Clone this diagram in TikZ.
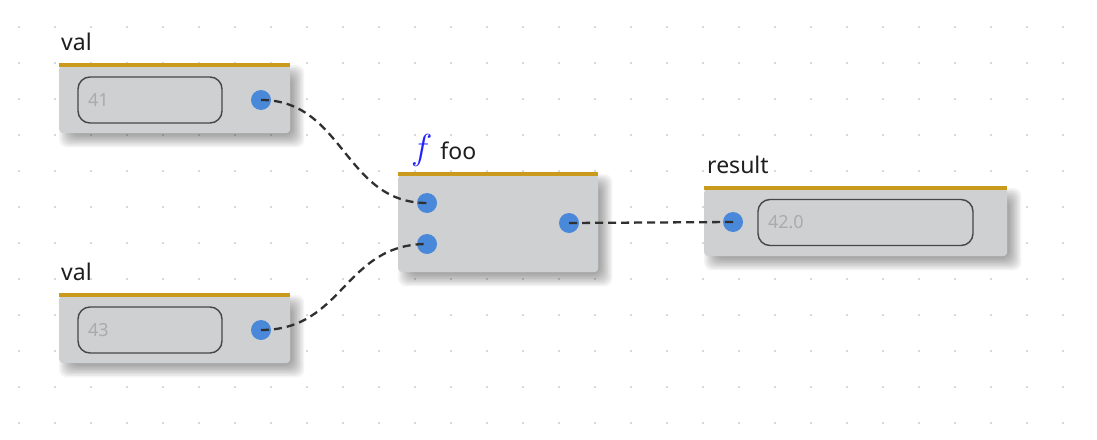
\documentclass[tikz,border=0pt]{standalone}
\usepackage{fontspec}
\setmainfont{Noto Sans}
\definecolor{boxc}{HTML}{CFD0D2}
\definecolor{goldc}{HTML}{C99A1C}
\definecolor{portc}{HTML}{4A88DA}
\definecolor{wirec}{HTML}{303030}
\definecolor{fieldc}{HTML}{474747}
\definecolor{valc}{HTML}{ABABAB}
\definecolor{dotc}{HTML}{D9D9D9}
\definecolor{lblc}{HTML}{1E1E1E}
\definecolor{fblue}{HTML}{2222FF}
\pgfdeclarelayer{under}
\pgfsetlayers{under,main}
\tikzset{
  nodebox/.style={fill=boxc, rounded corners=4pt, inner sep=0pt, anchor=north west},
  shadowlayer/.style={fill=black, fill opacity=0.045, rounded corners=8pt},
  goldbar/.style={draw=goldc, line width=3.5pt},
  field/.style={draw=fieldc, line width=1.4pt, rounded corners=12pt, minimum height=46pt,
    inner xsep=10pt, inner ysep=0pt, align=left, text=valc, font=\fontsize{18}{18}\selectfont},
  port/.style={circle, fill=portc, minimum size=20pt, inner sep=0pt},
  wire/.style={draw=wirec, line width=2.3pt, dash pattern=on 8pt off 5pt},
  lbl/.style={text=lblc, inner sep=0pt, anchor=base west, font=\fontsize{23}{23}\selectfont}
}
\begin{document}
\begin{tikzpicture}[x=1pt,y=-1pt]
\useasboundingbox (0,0) rectangle (1097,439);
% boxes
\node[nodebox, minimum width=231pt, minimum height=68pt] (v1) at (59,65) {};
\node[nodebox, minimum width=231pt, minimum height=68pt] (v2) at (59,295) {};
\node[nodebox, minimum width=200pt, minimum height=98pt] (fn) at (398,174) {};
\node[nodebox, minimum width=303pt, minimum height=68pt] (rs) at (704,188) {};
\begin{pgfonlayer}{under}
\fill[white] (0,0) rectangle (1097,439);
\foreach \i in {0,...,29}{
  \foreach \j in {0,...,11}{
    \fill[dotc] ({19+36*\i-1.3},{27+36*\j-1.3}) rectangle ++(2.6,2.6);
  }
}
\foreach \b in {v1,v2,fn,rs}{
  \foreach \e in {7,5.5,4,2.5,1,-0.5,-2,-3.5,-5}{
    \fill[shadowlayer] ([shift={(7-\e,7-\e)}]\b.north west) rectangle ([shift={(7+\e,7+\e)}]\b.south east);
  }
}
\end{pgfonlayer}
\draw[goldbar] (v1.north west) -- (v1.north east);
\draw[goldbar] (v2.north west) -- (v2.north east);
\draw[goldbar] (fn.north west) -- (fn.north east);
\draw[goldbar] (rs.north west) -- (rs.north east);
% labels
\node[lbl] (l1) at (61,50) {val};
\node[lbl] (l2) at (61,280) {val};
\node[lbl] (l3) at (411,159) {{\color{fblue}\scalebox{1.45}{$f$}}\hspace{8pt}foo};
\node[lbl] (l4) at (707,173) {result};
% fields
\node[field, text width=124pt] (f1) at (150,100) {41};
\node[field, text width=124pt] (f2) at (150,330) {43};
\node[field, text width=195pt] (f3) at (865.5,222.5) {42.0};
% ports
\node[port] (v1o) at (261,100) {};
\node[port] (v2o) at (261,330) {};
\node[port] (fi1) at (427,203) {};
\node[port] (fi2) at (427,244) {};
\node[port] (fo) at (569,223) {};
\node[port] (ri) at (733,222) {};
% wires
\draw[wire] (v1o.center) .. controls +(83,0) and +(-83,0) .. (fi1.center);
\draw[wire] (v2o.center) .. controls +(83,0) and +(-83,0) .. (fi2.center);
\draw[wire] (fo.center) .. controls +(82,0) and +(-82,0) .. (ri.center);
\end{tikzpicture}
\end{document}
